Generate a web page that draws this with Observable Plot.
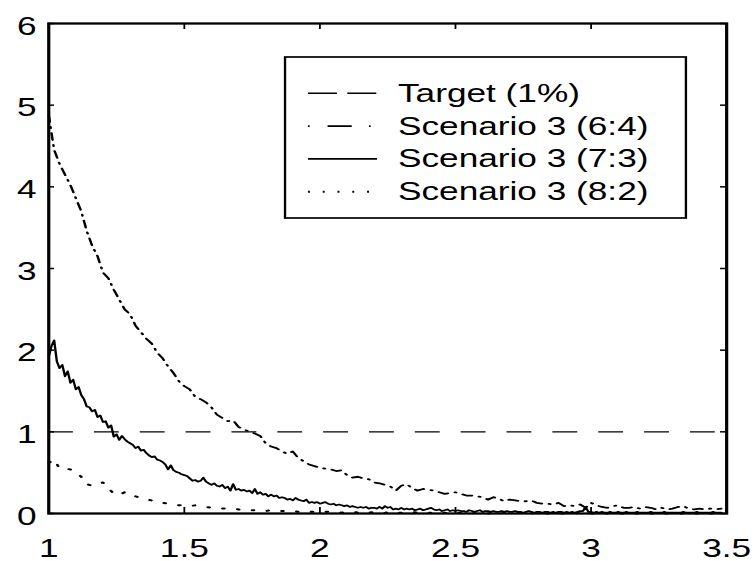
<!DOCTYPE html>
<html>
<head>
<meta charset="utf-8">
<script src="https://cdn.jsdelivr.net/npm/d3@7"></script>
<script src="https://cdn.jsdelivr.net/npm/@observablehq/plot@0.6"></script>
<style>
  body { margin: 0; background: #fff; }
  #chart svg { display: block; }
</style>
</head>
<body>
<div id="chart"></div>
<script>
// ---- data -------------------------------------------------------------
const xStart = 1;          // every series starts at x = 1
const step64 = 0.02;       // sampling step of each series along x
const step73 = 0.01;
const step82 = 0.02;
const target = 1;          // the 1% target level

// Scenario 3 (6:4), x = 1.00 … 3.48
const s64 = [
  4.88, 4.45, 4.28, 4.15, 4.02, 3.86, 3.70, 3.46, 3.28, 3.15,
  2.95, 2.88, 2.74, 2.62, 2.50, 2.44, 2.30, 2.22, 2.14, 2.08,
  1.97, 1.90, 1.80, 1.72, 1.62, 1.56, 1.52, 1.43, 1.40, 1.36,
  1.30, 1.21, 1.17, 1.13, 1.14, 1.06, 1.03, 1.00, 0.98, 0.95,
  0.86, 0.82, 0.80, 0.76, 0.73, 0.76, 0.68, 0.64, 0.60, 0.58,
  0.56, 0.55, 0.54, 0.52, 0.53, 0.47, 0.44, 0.45, 0.43, 0.42,
  0.38, 0.37, 0.35, 0.33, 0.28, 0.34, 0.36, 0.31, 0.28, 0.30,
  0.29, 0.28, 0.26, 0.24, 0.25, 0.26, 0.24, 0.22, 0.22, 0.21,
  0.20, 0.17, 0.20, 0.18, 0.15, 0.17, 0.16, 0.15, 0.15, 0.16,
  0.13, 0.12, 0.12, 0.11, 0.13, 0.09, 0.10, 0.09, 0.11, 0.07,
  0.13, 0.10, 0.08, 0.07, 0.09, 0.10, 0.07, 0.07, 0.08, 0.06,
  0.08, 0.07, 0.05, 0.07, 0.05, 0.06, 0.08, 0.09, 0.06, 0.05,
  0.06, 0.05, 0.06, 0.05, 0.06
];

// Scenario 3 (7:3), x = 1.00 … 3.48
const s73 = [
  1.92, 2.05, 2.12, 1.86, 1.78, 1.82, 1.68, 1.74, 1.60, 1.64,
  1.52, 1.55, 1.45, 1.40, 1.31, 1.30, 1.25, 1.27, 1.18, 1.20,
  1.12, 1.13, 1.05, 1.08, 0.94, 0.97, 0.90, 0.95, 0.91, 0.88,
  0.86, 0.84, 0.80, 0.82, 0.77, 0.78, 0.74, 0.71, 0.69, 0.70,
  0.66, 0.65, 0.63, 0.60, 0.54, 0.59, 0.53, 0.51, 0.50, 0.48,
  0.47, 0.46, 0.43, 0.40, 0.41, 0.39, 0.40, 0.44, 0.39, 0.37,
  0.35, 0.37, 0.34, 0.33, 0.35, 0.31, 0.33, 0.28, 0.36, 0.29,
  0.30, 0.28, 0.29, 0.27, 0.28, 0.25, 0.30, 0.24, 0.26, 0.23,
  0.24, 0.21, 0.23, 0.21, 0.22, 0.19, 0.20, 0.19, 0.17, 0.18,
  0.16, 0.19, 0.17, 0.16, 0.15, 0.17, 0.13, 0.14, 0.13, 0.14,
  0.12, 0.13, 0.14, 0.12, 0.11, 0.12, 0.10, 0.11, 0.10, 0.09,
  0.10, 0.08, 0.09, 0.08, 0.07, 0.08, 0.07, 0.08, 0.06, 0.07,
  0.07, 0.06, 0.08, 0.06, 0.09, 0.07, 0.08, 0.05, 0.06, 0.05,
  0.07, 0.05, 0.06, 0.05, 0.06, 0.04, 0.05, 0.06, 0.04, 0.05,
  0.06, 0.07, 0.05, 0.04, 0.05, 0.03, 0.04, 0.05, 0.03, 0.04,
  0.03, 0.04, 0.03, 0.03, 0.02, 0.04, 0.03, 0.02, 0.03, 0.04,
  0.02, 0.03, 0.03, 0.02, 0.03, 0.02, 0.02, 0.03, 0.02, 0.03,
  0.02, 0.02, 0.03, 0.02, 0.02, 0.01, 0.02, 0.03, 0.02, 0.01,
  0.02, 0.02, 0.01, 0.02, 0.02, 0.01, 0.02, 0.01, 0.02, 0.02,
  0.01, 0.02, 0.01, 0.02, 0.01, 0.02, 0.03, 0.03, 0.08, 0.02,
  0.02, 0.01, 0.02, 0.01, 0.02, 0.01, 0.01, 0.02, 0.01, 0.01,
  0.02, 0.01, 0.01, 0.02, 0.01, 0.01, 0.01, 0.02, 0.01, 0.01,
  0.01, 0.01, 0.02, 0.01, 0.01, 0.01, 0.01, 0.02, 0.01, 0.01,
  0.01, 0.01, 0.01, 0.01, 0.02, 0.01, 0.01, 0.01, 0.01, 0.02,
  0.01, 0.01, 0.01, 0.01, 0.01, 0.02, 0.01, 0.01, 0.01
];

// Scenario 3 (8:2), x = 1.00 … 3.48
const s82 = [
  0.62, 0.66, 0.55, 0.55, 0.54, 0.50, 0.45, 0.36, 0.34, 0.36,
  0.38, 0.31, 0.24, 0.23, 0.26, 0.25, 0.21, 0.19, 0.17, 0.16,
  0.15, 0.13, 0.12, 0.11, 0.10, 0.10, 0.09, 0.10, 0.09, 0.08,
  0.07, 0.06, 0.06, 0.06, 0.06, 0.05, 0.05, 0.04, 0.04, 0.04,
  0.03, 0.04, 0.03, 0.03, 0.03, 0.03, 0.02, 0.03, 0.02, 0.02,
  0.02, 0.02, 0.02, 0.02, 0.01, 0.02, 0.02, 0.01, 0.02, 0.01,
  0.02, 0.01, 0.01, 0.02, 0.01, 0.01, 0.01, 0.02, 0.01, 0.01,
  0.01, 0.01, 0.01, 0.01, 0.00, 0.01, 0.01, 0.01, 0.00, 0.01,
  0.01, 0.00, 0.01, 0.00, 0.01, 0.00, 0.00, 0.01, 0.00, 0.00,
  0.01, 0.00, 0.00, 0.01, 0.00, 0.00, 0.00, 0.00, 0.01, 0.00,
  0.00, 0.00, 0.00, 0.00, 0.00, 0.00, 0.00, 0.00, 0.00, 0.00,
  0.00, 0.00, 0.00, 0.00, 0.00, 0.00, 0.00, 0.00, 0.00, 0.00,
  0.00, 0.00, 0.00, 0.00, 0.00
];

const seriesNames = ["Target (1%)", "Scenario 3 (6:4)", "Scenario 3 (7:3)", "Scenario 3 (8:2)"];
const xTicks = [1, 1.5, 2, 2.5, 3, 3.5];
const yTicks = [0, 1, 2, 3, 4, 5, 6];

// ---- layout -----------------------------------------------------------
// The figure is laid out on a 546-wide canvas and widened to 754 px.
const W = 546, H = 561, outW = 754;
const mL = 34.8, mR = 20.3, mT = 23, mB = 48;
const innerW = W - mL - mR, innerH = H - mT - mB;
const font = "'Liberation Sans', Arial, Helvetica, sans-serif";
const fontSize = 25.5;

// dash patterns
const dashTarget = "18,15.2";
const dashDot = "7,5,1.2,5";
const dots = "1.4,9.4";

const toPoints = (values, step) =>
  values.map((y, i) => ({x: +(xStart + i * step).toFixed(3), y}));

const svg = Plot.plot({
  width: W,
  height: H,
  marginLeft: mL,
  marginRight: mR,
  marginTop: mT,
  marginBottom: mB,
  style: {fontFamily: font, fontSize: fontSize + "px", color: "#000", background: "#fff", overflow: "visible"},
  x: {domain: [1, 3.5]},
  y: {domain: [0, 6]},
  marks: [
    Plot.ruleY([target], {stroke: "#000", strokeWidth: 1.4, strokeDasharray: dashTarget}),
    Plot.line(toPoints(s64, step64), {x: "x", y: "y", stroke: "#000", strokeWidth: 1.8, strokeDasharray: dashDot}),
    Plot.line(toPoints(s73, step73), {x: "x", y: "y", stroke: "#000", strokeWidth: 1.7}),
    Plot.line(toPoints(s82, step82), {x: "x", y: "y", stroke: "#000", strokeWidth: 2, strokeDasharray: dots}),
    // inward ticks on all four sides of the box
    Plot.ruleX(xTicks, {stroke: "#000", strokeWidth: 1.3, insetTop: innerH - 6}),
    Plot.ruleX(xTicks, {stroke: "#000", strokeWidth: 1.3, insetBottom: innerH - 6}),
    Plot.ruleY(yTicks, {stroke: "#000", strokeWidth: 1.5, insetRight: innerW - 4.3}),
    Plot.ruleY(yTicks, {stroke: "#000", strokeWidth: 1.5, insetLeft: innerW - 4.3}),
    Plot.frame({stroke: "#000", strokeWidth: 2.3}),
    Plot.axisX(xTicks, {tickSize: 0, tickPadding: 25, label: null, tickFormat: d => String(d)}),
    Plot.axisY(yTicks, {tickSize: 0, tickPadding: 8.8, dy: 3, label: null, tickFormat: d => String(d)})
  ]
});

// ---- legend box (upper right, inside the axes) -------------------------
const legend = d3.select(svg).append("g")
  .attr("font-family", font)
  .attr("font-size", fontSize)
  .attr("text-anchor", "start");

legend.append("rect")
  .attr("x", 206.4).attr("y", 57)
  .attr("width", 290.3).attr("height", 161)
  .attr("fill", "#fff").attr("stroke", "#000").attr("stroke-width", 1.7);

const legendDash = ["21,7.5", "1.2,13,17.5,12.5", null, "1.4,9.3"];
const legendWidth = [1.4, 1.8, 1.7, 2];
seriesNames.forEach((name, i) => {
  const base = 101.8 + 32.8 * i;
  const line = legend.append("line")
    .attr("x1", 223).attr("x2", 273)
    .attr("y1", base - 8.5).attr("y2", base - 8.5)
    .attr("stroke", "#000").attr("stroke-width", legendWidth[i]);
  if (legendDash[i]) line.attr("stroke-dasharray", legendDash[i]);
  legend.append("text")
    .attr("x", 288.2).attr("y", base)
    .attr("fill", "#000")
    .text(name);
});

// widen the drawing to the final 754 × 561 page
svg.setAttribute("viewBox", `0 0 ${W} ${H}`);
svg.setAttribute("preserveAspectRatio", "none");
svg.setAttribute("width", outW);
svg.setAttribute("height", H);
svg.style.width = outW + "px";
svg.style.height = H + "px";
svg.style.maxWidth = "none";

document.getElementById("chart").appendChild(svg);
</script>
</body>
</html>
